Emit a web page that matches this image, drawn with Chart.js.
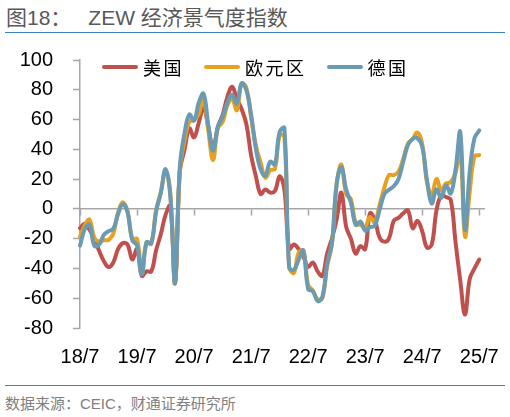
<!DOCTYPE html>
<html>
<head>
<meta charset="utf-8">
<script src="https://cdn.jsdelivr.net/npm/chart.js@4.4.1/dist/chart.umd.min.js"></script>
<style>
  body { margin: 0; width: 510px; height: 417px; position: relative; background: #fff; overflow: hidden; }
  #title { position: absolute; left: 6px; top: 1px; font: 21px "Liberation Sans", "Noto Sans CJK SC", sans-serif; color: #595959; white-space: pre; }
  #title .gap { display: inline-block; width: 17px; }
  #titleLine { position: absolute; left: 5px; top: 32px; width: 500px; border-top: 1.5px solid #3d7fc2; }
  #foot { position: absolute; left: 5px; top: 392px; font: 15px "Liberation Sans", "Noto Sans CJK SC", sans-serif; color: #7f7f7f; white-space: pre; }
  #footLine { position: absolute; left: 5px; top: 385px; width: 500px; border-top: 1.5px solid #3d7fc2; }
  #c { position: absolute; left: 0; top: 40px; }
  #legend { position: absolute; left: 102px; top: 56px; height: 22px; display: flex; align-items: center; }
  #legend .item { display: flex; align-items: center; margin-right: 20px; }
  #legend .swatch { width: 36px; height: 4px; border-radius: 2px; margin-right: 5px; }
  #legend .name { font: 18px "Noto Sans CJK SC", serif; letter-spacing: 2.5px; color: #000; }
</style>
</head>
<body>
<div id="title">图18：<span class="gap"></span>ZEW 经济景气度指数</div>
<div id="titleLine"></div>
<canvas id="c" width="510" height="340"></canvas>
<div id="legend"></div>
<div id="footLine"></div>
<div id="foot">数据来源：CEIC，财通证券研究所</div>
<script>
// 月度数据 2018/7 - 2025/7
const tickLabels = ['18/7', '19/7', '20/7', '21/7', '22/7', '23/7', '24/7', '25/7'];

const us = [-13, -10, -14, -20, -28, -35, -39, -36, -27, -23, -24, -34, -27, -45, -42, -42, -28, -17, -4, 2,
  -50, 25, 40, 54, 48, 58, 68, 55, 40, 55, 63, 75, 82, 74, 67, 57, 36, 22, 10, 13,
  11, 12, 22, 13, -27, -24, -27, -32, -39, -36, -42, -45, -30, -20, -7, 11, -12, -20, -30, -25,
  -27, -3, -7, -19, -22, -20, -8, -6, -3, -1, -13, -8, -15, -26, -24, -1, 9, 8, 6, -22,
  -48, -71, -47, -40, -34];

const euro = [-18.7, -11.1, -7.2, -19.4, -22.0, -21.0, -20.9, -16.6, -2.5, 4.5, -1.6, -20.2, -20.3, -43.6, -22.4, -23.5, -1.0, 11.2, 25.6, 10.4,
  -49.5, 25.2, 46.0, 58.6, 59.6, 64.0, 73.9, 52.3, 32.8, 54.4, 58.3, 69.6, 74.0, 66.3, 84.0, 81.3, 61.2, 42.7, 31.1, 21.0,
  25.9, 26.8, 49.4, 48.6, -38.7, -43.0, -29.5, -28.0, -51.1, -54.9, -60.7, -59.7, -38.7, -23.6, 16.7, 29.7, 10.0, 6.4, -9.4, -10.8,
  -12.2, -5.5, -8.9, 2.3, 13.8, 22.7, 22.7, 25.0, 33.5, 43.9, 47.0, 51.3, 43.7, 17.9, 9.3, 20.1, 12.5, 17.0, 18.0, 24.2,
  39.8, -18.5, 11.6, 35.3, 36.1];

const germany = [-24.7, -13.7, -10.6, -24.7, -24.1, -17.5, -15.0, -13.4, -3.6, 3.1, -2.1, -21.1, -24.5, -44.1, -22.5, -22.8, -2.1, 10.7, 26.7, 8.7,
  -49.5, 28.2, 51.0, 63.4, 59.3, 71.5, 77.4, 56.1, 39.0, 55.0, 61.8, 71.2, 76.6, 70.7, 84.4, 79.8, 63.3, 40.4, 26.5, 22.3,
  31.7, 29.9, 51.7, 54.3, -39.3, -41.0, -34.3, -28.0, -53.8, -55.3, -61.9, -59.2, -36.7, -23.3, 16.9, 28.1, 13.0, 4.1, -10.7, -8.5,
  -14.7, -12.3, -11.4, -1.1, 9.8, 12.8, 15.2, 19.9, 31.7, 42.9, 47.1, 47.5, 41.8, 19.2, 3.6, 13.1, 7.4, 15.7, 10.3, 26.0,
  51.6, -14.0, 25.2, 47.5, 52.7];

const seriesNames = ['美国', '欧元区', '德国'];
const seriesColors = ['#c0504d', '#e5a11f', '#6b9bb3'];
const seriesData = [us, euro, germany];

// 横轴月份：18/7 起，多留一个月到 25/8
const months = [];
for (let i = 0; i < 86; i++) {
  months.push((18 + Math.floor((6 + i) / 12)) + '/' + ((6 + i) % 12 + 1));
}

const axisGrey = '#a6a6a6';
const tickFont = { family: 'Liberation Sans', size: 20 };

// 图例
const legendEl = document.getElementById('legend');
seriesNames.forEach((name, i) => {
  const item = document.createElement('div');
  item.className = 'item';
  item.innerHTML = '<span class="swatch" style="background:' + seriesColors[i] + '"></span><span class="name">' + name + '</span>';
  legendEl.appendChild(item);
});

const ctx = document.getElementById('c').getContext('2d');
new Chart(ctx, {
  type: 'line',
  data: {
    labels: months,
    datasets: seriesData.map((d, i) => ({
      label: seriesNames[i],
      data: d,
      borderColor: seriesColors[i],
      backgroundColor: seriesColors[i],
      borderWidth: 4,
      pointRadius: 0,
      tension: 0.4,
      borderJoinStyle: 'round',
      borderCapStyle: 'round',
      order: 2 - i
    }))
  },
  options: {
    responsive: false,
    animation: false,
    layout: { padding: { top: 20, right: 26, bottom: 0, left: 0 } },
    plugins: {
      legend: { display: false },
      tooltip: { enabled: false }
    },
    scales: {
      x: {
        position: 'bottom',
        grid: { display: false },
        border: { display: false },
        ticks: {
          autoSkip: false,
          maxRotation: 0,
          minRotation: 0,
          padding: 9,
          color: '#000',
          font: tickFont,
          callback: (v, i) => (i % 12 === 0 ? tickLabels[i / 12] : '')
        },
        afterFit: s => { s.height = 52; s.paddingLeft = 0; s.paddingRight = 0; }
      },
      x2: {
        type: 'category',
        position: { y: 0 },
        grid: {
          drawOnChartArea: false,
          tickLength: 6,
          tickWidth: 1.5,
          tickColor: c => (c.index % 12 === 0 ? axisGrey : 'rgba(0,0,0,0)')
        },
        border: { color: axisGrey, width: 1.5 },
        ticks: { display: false }
      },
      y: {
        min: -80,
        max: 100,
        ticks: { stepSize: 20, padding: 20, color: '#000', font: tickFont },
        grid: { drawOnChartArea: false, tickLength: 7, tickWidth: 1.5, tickColor: axisGrey },
        border: { color: axisGrey, width: 1.5 },
        afterFit: s => { s.width = 80; s.paddingTop = 0; s.paddingBottom = 0; }
      }
    }
  }
});
</script>
</body>
</html>
